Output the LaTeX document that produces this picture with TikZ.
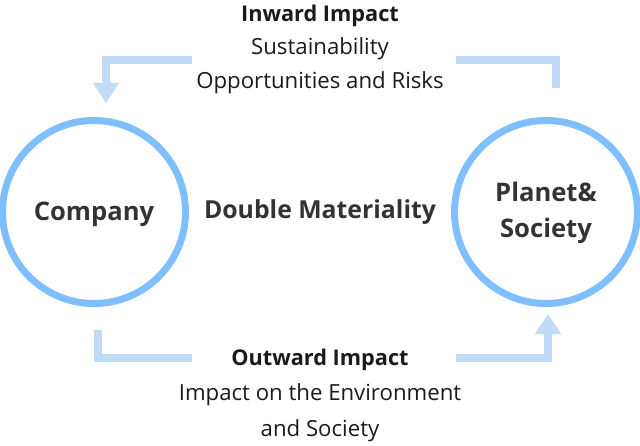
\documentclass[tikz,border=0pt]{standalone}
\usepackage{fontspec}
\setmainfont{Open Sans}
\usetikzlibrary{arrows.meta}
\definecolor{ring}{HTML}{80BFFF}
\definecolor{flow}{HTML}{C0DCF6}
\definecolor{ink}{HTML}{1A1A1A}
\definecolor{dark}{HTML}{333333}
\tikzset{
  ringnode/.style={circle,draw=ring,line width=7pt,minimum size=183pt,inner sep=0pt},
  ringtxt/.style={anchor=base,inner sep=0pt,font=\fontsize{25.6}{36}\selectfont\bfseries,text=dark},
  flowline/.style={draw=flow,line width=8pt,line join=miter,line cap=butt},
  flowtip/.style={-{Triangle[width=25pt,length=20pt]}},
  headtxt/.style={anchor=base,inner sep=0pt,font=\fontsize{21.7}{24}\selectfont\bfseries,text=ink},
  bodytxt/.style={anchor=base,inner sep=0pt,font=\fontsize{22.2}{24}\selectfont,text=ink},
  midtxt/.style={anchor=base,inner sep=0pt,font=\fontsize{24.8}{26}\selectfont\bfseries,text=dark}
}
\begin{document}
\begin{tikzpicture}[x=1pt,y=-1pt]
\useasboundingbox (0,0) rectangle (640,446);
\node[ringnode] (company) at (94,212) {};
\node[ringnode] (planet) at (546,212) {};
\node[ringtxt] (companytxt) at (94,221) {Company};
\node[ringtxt] (planettxt) at (546,202) {Planet\&};
\node[ringtxt] (societytxt) at (546,238) {Society};
\node[midtxt] (dm) at (320,219) {Double Materiality};
\node[headtxt] (inward) at (320,21.5) {Inward Impact};
\node[bodytxt] (sust) at (320,55) {Sustainability};
\node[bodytxt] (opp) at (320,88.5) {Opportunities and Risks};
\node[headtxt] (outward) at (320,366) {Outward Impact};
\node[bodytxt] (impact) at (320,400) {Impact on the Environment};
\node[bodytxt] (andsoc) at (320,436) {and Society};
% connector points
\coordinate (tlA) at (192,60);
\coordinate (tlB) at (106,60);
\coordinate (tlC) at (106,103);
\coordinate (trA) at (556,88);
\coordinate (trB) at (556,60);
\coordinate (trC) at (456,60);
\coordinate (blA) at (98,330);
\coordinate (blB) at (98,358);
\coordinate (blC) at (192,358);
\coordinate (brA) at (456,358);
\coordinate (brB) at (548,358);
\coordinate (brC) at (548,314);
\path[flowline] (trA) -- (trB) -- (trC);
\path[flowline,flowtip] (tlA) -- (tlB) -- (tlC);
\path[flowline] (blA) -- (blB) -- (blC);
\path[flowline,flowtip] (brA) -- (brB) -- (brC);
\end{tikzpicture}
\end{document}
